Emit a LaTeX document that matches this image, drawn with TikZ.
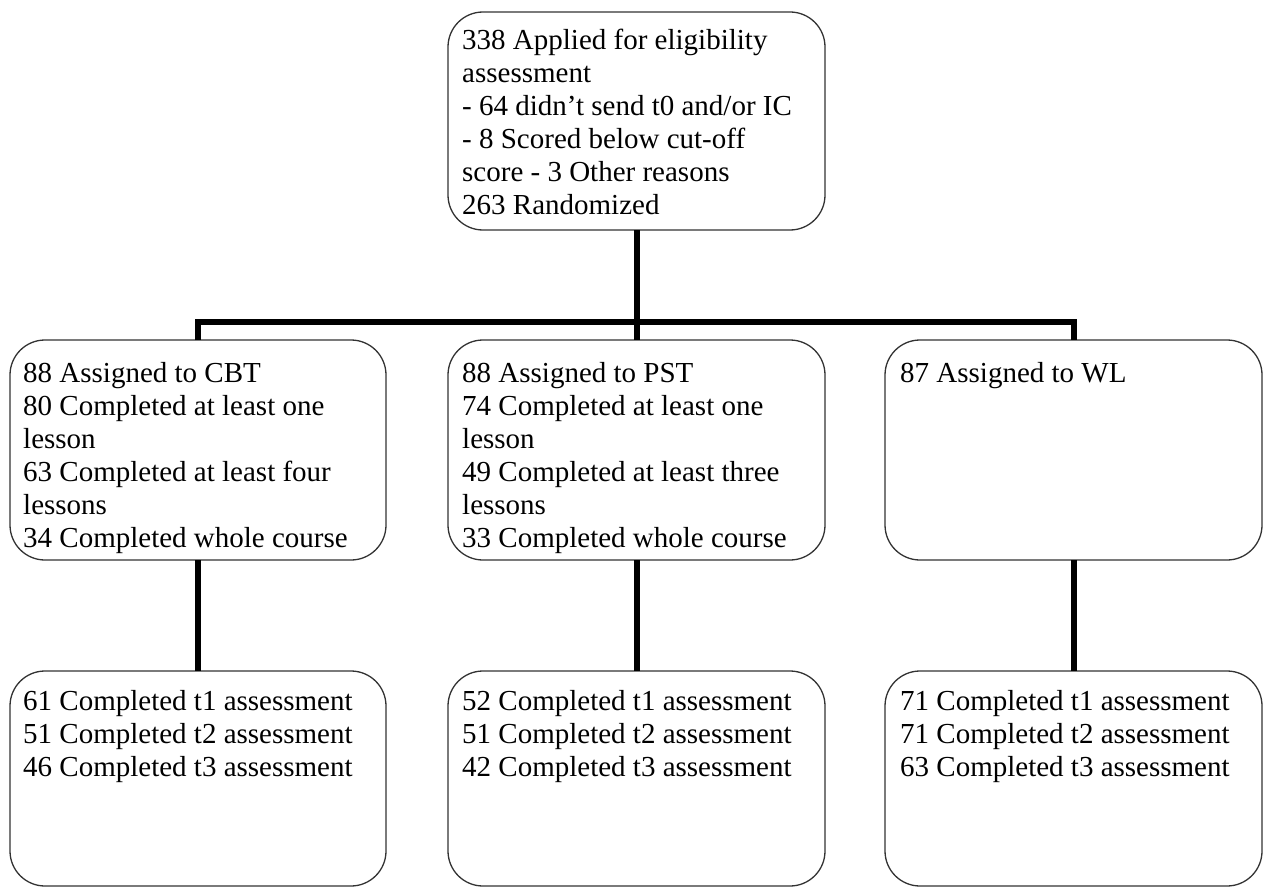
\documentclass[tikz,border=0pt]{standalone}
\usepackage{fontspec}
\setmainfont{Liberation Serif}
\newcommand\fl{\rule{0pt}{22pt}}
\begin{document}
\begin{tikzpicture}[x=1pt,y=-1pt,
  box/.style={draw=black!80, line width=1.3pt, rounded corners=35pt, inner sep=0pt, outer sep=0pt, fill=white},
  txt/.style={anchor=north west, inner sep=0pt, align=left, font=\fontsize{29}{33}\selectfont},
  conn/.style={line width=6pt, line join=miter, black}]
\useasboundingbox[fill=white] (0,0) rectangle (1263,888);
% boxes
\node[box, minimum width=377pt, minimum height=218pt] (top) at (636.5,121) {};
\node[box, minimum width=376pt, minimum height=220pt] (cbt) at (198,450) {};
\node[box, minimum width=377pt, minimum height=220pt] (pst) at (636.5,450) {};
\node[box, minimum width=377pt, minimum height=220pt] (wl) at (1073.5,450) {};
\node[box, minimum width=376pt, minimum height=215pt] (cbtlow) at (198,778.5) {};
\node[box, minimum width=377pt, minimum height=215pt] (pstlow) at (636.5,778.5) {};
\node[box, minimum width=377pt, minimum height=215pt] (wllow) at (1073.5,778.5) {};
% texts
\node[txt] (toptxt) at (462,27) {\fl 338 Applied for eligibility\\assessment\\- 64 didn’t send t0 and/or IC\\- 8 Scored below cut-off\\score - 3 Other reasons\\263 Randomized};
\node[txt] (cbttxt) at (23,360) {\fl 88 Assigned to CBT\\80 Completed at least one\\lesson\\63 Completed at least four\\lessons\\34 Completed whole course};
\node[txt] (psttxt) at (462,360) {\fl 88 Assigned to PST\\74 Completed at least one\\lesson\\49 Completed at least three\\lessons\\33 Completed whole course};
\node[txt] (wltxt) at (900,360) {\fl 87 Assigned to WL};
\node[txt] (cbtlowtxt) at (23,688) {\fl 61 Completed t1 assessment\\51 Completed t2 assessment\\46 Completed t3 assessment};
\node[txt] (pstlowtxt) at (462,688) {\fl 52 Completed t1 assessment\\51 Completed t2 assessment\\42 Completed t3 assessment};
\node[txt] (wllowtxt) at (900,688) {\fl 71 Completed t1 assessment\\71 Completed t2 assessment\\63 Completed t3 assessment};
% connectors
\coordinate (j) at (636.5,322);
\draw[conn] (top.south) -- (j);
\draw[conn] (cbt.north) |- (j) -| (wl.north);
\draw[conn] (j) -- (pst.north);
\draw[conn] (cbt.south) -- (cbtlow.north);
\draw[conn] (pst.south) -- (pstlow.north);
\draw[conn] (wl.south) -- (wllow.north);
\end{tikzpicture}
\end{document}
